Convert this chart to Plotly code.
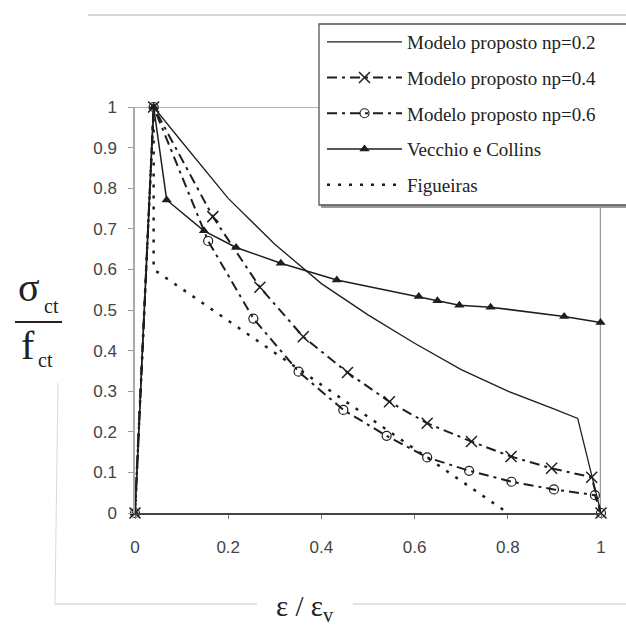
import plotly.graph_objects as go

# ---------------- data ----------------
np02_x = [0, 0.04, 0.1, 0.2, 0.3, 0.4, 0.5, 0.6, 0.7, 0.8, 0.9, 0.95, 1.0]
np02_y = [0, 1, 0.915, 0.775, 0.662, 0.565, 0.488, 0.418, 0.353, 0.300, 0.256, 0.233, 0]

np04_x = [0, 0.04, 0.167, 0.268, 0.361, 0.456, 0.546, 0.627, 0.722, 0.807, 0.894, 0.98, 1.0]
np04_y = [0, 1, 0.73, 0.556, 0.434, 0.346, 0.274, 0.221, 0.176, 0.139, 0.110, 0.088, 0]

np06_x = [0, 0.04, 0.157, 0.254, 0.351, 0.447, 0.54, 0.627, 0.717, 0.808, 0.899, 0.987, 1.0]
np06_y = [0, 1, 0.670, 0.479, 0.348, 0.254, 0.190, 0.137, 0.104, 0.077, 0.058, 0.044, 0]

vc_x = [0, 0.04, 0.068, 0.148, 0.217, 0.313, 0.433, 0.609, 0.649, 0.696, 0.763, 0.921, 0.999]
vc_y = [0, 1, 0.771, 0.695, 0.654, 0.615, 0.574, 0.533, 0.523, 0.512, 0.507, 0.484, 0.469]

fig_x = [0, 0.04, 0.04, 0.8]
fig_y = [0, 1, 0.6, 0]

names = ["Modelo proposto np=0.2", "Modelo proposto np=0.4", "Modelo proposto np=0.6",
         "Vecchio e Collins", "Figueiras"]

x_ticks = [0, 0.2, 0.4, 0.6, 0.8, 1]
x_ticklabels = ["0", "0.2", "0.4", "0.6", "0.8", "1"]
y_ticks = [0, 0.1, 0.2, 0.3, 0.4, 0.5, 0.6, 0.7, 0.8, 0.9, 1]
y_ticklabels = ["0", "0.1", "0.2", "0.3", "0.4", "0.5", "0.6", "0.7", "0.8", "0.9", "1"]

# ---------------- layout geometry ----------------
W, H = 626, 627
L, R, T, B = 135, 25, 107, 114
PW, PH = W - L - R, H - T - B

def px(xp):
    return (xp - L) / PW

def py(yp):
    return (H - B - yp) / PH

INK = "#1e1e1e"

fig = go.Figure()

fig.add_trace(go.Scatter(x=np02_x, y=np02_y, name=names[0], mode="lines",
                         line=dict(color=INK, width=1.3), legendgroup="a"))
fig.add_trace(go.Scatter(x=np04_x, y=np04_y, name=names[1], mode="lines+markers",
                         line=dict(color=INK, width=2, dash="10px,5px,3px,5px"),
                         marker=dict(symbol="x-thin", size=11, line=dict(color=INK, width=1.5)),
                         legendgroup="b"))
fig.add_trace(go.Scatter(x=np06_x, y=np06_y, name=names[2], mode="lines+markers",
                         line=dict(color=INK, width=2, dash="10px,5px,3px,5px"),
                         marker=dict(symbol="circle-open", size=9, color=INK, line=dict(color=INK, width=1.2)),
                         legendgroup="c"))
fig.add_trace(go.Scatter(x=vc_x, y=vc_y, name=names[3], mode="lines+markers",
                         line=dict(color=INK, width=1.5),
                         marker=dict(symbol="triangle-up", size=9, color=INK),
                         legendgroup="d"))
fig.add_trace(go.Scatter(x=fig_x, y=fig_y, name=names[4], mode="lines",
                         line=dict(color=INK, width=2.5, dash="3px,8px"),
                         legendgroup="e"))

for tr in fig.data:
    tr.cliponaxis = False

shapes = []
# outer frame remnants
shapes.append(dict(type="line", xref="paper", yref="paper", x0=px(88), x1=px(640), y0=py(15), y1=py(15),
                   line=dict(color="#b0b0b0", width=1.2)))
shapes.append(dict(type="line", xref="paper", yref="paper", x0=px(55), x1=px(257), y0=py(604), y1=py(604),
                   line=dict(color="#c8c8c8", width=1.2)))
shapes.append(dict(type="line", xref="paper", yref="paper", x0=px(353), x1=px(640), y0=py(604), y1=py(604),
                   line=dict(color="#c8c8c8", width=1.2)))
shapes.append(dict(type="line", xref="paper", yref="paper", x0=px(58), x1=px(55), y0=py(383), y1=py(604),
                   line=dict(color="#dadada", width=1)))
# plot area top and right borders
shapes.append(dict(type="line", xref="x", yref="y", x0=0, x1=1, y0=1, y1=1, layer="below",
                   line=dict(color="#b4b4b4", width=2)))
shapes.append(dict(type="line", xref="x", yref="y", x0=1, x1=1, y0=0, y1=1, layer="below",
                   line=dict(color="#9a9a9a", width=2.5)))
# fraction bar of y title
shapes.append(dict(type="line", xref="paper", yref="paper", x0=px(15), x1=px(62), y0=py(322), y1=py(322),
                   line=dict(color="#222", width=2)))
# legend box with shadow
shapes.append(dict(type="rect", xref="paper", yref="paper", x0=px(321), x1=px(660), y0=py(208), y1=py(26),
                   line=dict(width=0), fillcolor="#9a9a9a", layer="above"))
shapes.append(dict(type="rect", xref="paper", yref="paper", x0=px(319), x1=px(660), y0=py(205), y1=py(24),
                   line=dict(color="#555", width=1.3), fillcolor="white", layer="above"))

annotations = [
    dict(text="σ", xref="paper", yref="paper", x=px(29), y=py(287), showarrow=False,
         font=dict(family="Liberation Serif", size=40, color="#222"), xanchor="center", yanchor="middle"),
    dict(text="ct", xref="paper", yref="paper", x=px(51), y=py(306), showarrow=False,
         font=dict(family="Liberation Serif", size=20, color="#222"), xanchor="center", yanchor="middle"),
    dict(text="f", xref="paper", yref="paper", x=px(28), y=py(345), showarrow=False,
         font=dict(family="Liberation Serif", size=40, color="#222"), xanchor="center", yanchor="middle"),
    dict(text="ct", xref="paper", yref="paper", x=px(45), y=py(360), showarrow=False,
         font=dict(family="Liberation Serif", size=20, color="#222"), xanchor="center", yanchor="middle"),
    dict(text="ε / ε<sub>v</sub>", xref="paper", yref="paper", x=px(305), y=py(608), showarrow=False,
         font=dict(family="Liberation Serif", size=29, color="#222"), xanchor="center", yanchor="middle"),
]

fig.update_layout(
    width=W, height=H,
    margin=dict(l=L, r=R, t=T, b=B, pad=0),
    paper_bgcolor="white", plot_bgcolor="white",
    showlegend=True,
    legend=dict(x=px(322), y=py(23), xanchor="left", yanchor="top",
                bgcolor="rgba(0,0,0,0)", borderwidth=0,
                font=dict(family="Liberation Serif", size=19, color="#222"),
                itemwidth=75, traceorder="grouped", tracegroupgap=8),
    shapes=shapes,
    annotations=annotations,
    xaxis=dict(range=[0, 1], tickvals=x_ticks, ticktext=x_ticklabels,
               showgrid=False, zeroline=False, showline=True, linecolor="#444", linewidth=1.5,
               ticks="outside", ticklen=4, tickcolor="#777", tickwidth=1,
               ticklabelstandoff=14,
               tickfont=dict(family="Liberation Sans", size=17, color="#444")),
    yaxis=dict(range=[0, 1], tickvals=y_ticks, ticktext=y_ticklabels,
               showgrid=False, zeroline=False, showline=True, linecolor="#aaa", linewidth=1.5,
               ticks="outside", ticklen=5, tickcolor="#999", tickwidth=1,
               ticklabelstandoff=8,
               tickfont=dict(family="Liberation Sans", size=17, color="#444")),
)

fig.write_html("out.html")
